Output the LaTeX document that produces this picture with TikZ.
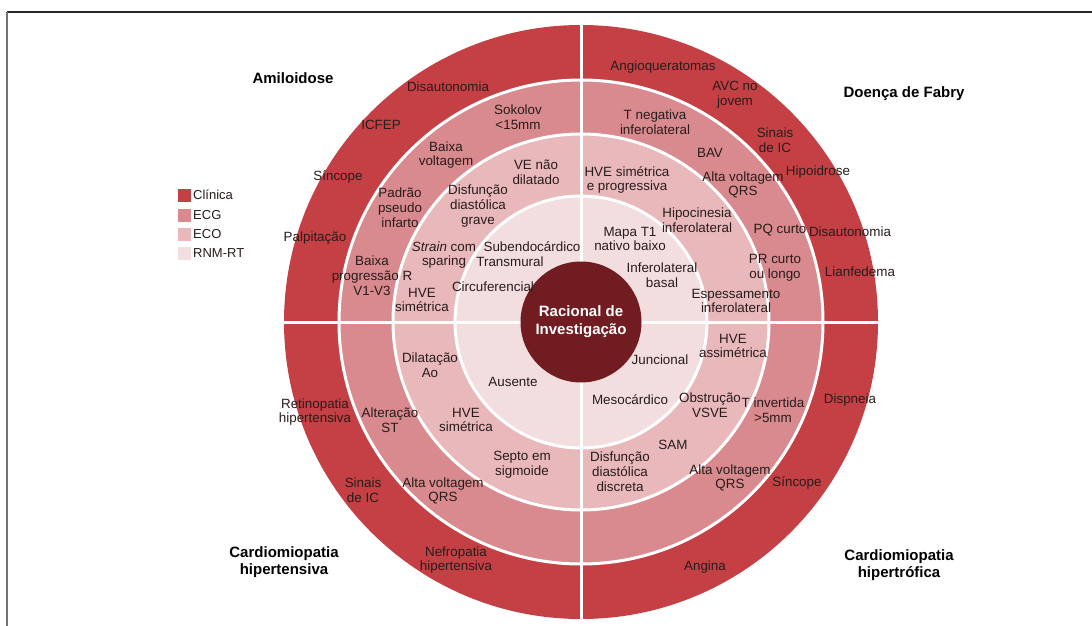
\documentclass[tikz,border=0pt]{standalone}
\usepackage{fontspec}
\setmainfont{Liberation Sans}
\definecolor{cA}{RGB}{196,64,68}
\definecolor{cB}{RGB}{216,138,142}
\definecolor{cC}{RGB}{233,184,187}
\definecolor{cD}{RGB}{243,222,223}
\definecolor{cCore}{RGB}{112,28,32}
\definecolor{txt}{RGB}{40,28,28}
\begin{document}
\begin{tikzpicture}[x=1pt,y=-1pt,
  lbl/.style={font=\fontsize{13.4}{14.8}\selectfont, text=txt, align=center, inner sep=0pt},
  ttl/.style={font=\fontsize{15}{17}\selectfont\bfseries, text=black, align=center, inner sep=0pt},
  sep/.style={white, line width=3pt},
  legsq/.style={minimum width=13pt, minimum height=13pt, inner sep=0pt, anchor=east},
  legtx/.style={font=\fontsize{13}{15}\selectfont, text=txt, anchor=west, inner sep=0pt}]
\useasboundingbox (0,0) rectangle (1092,626);
\fill[white] (0,0) rectangle (1092,626);
\draw[black!85, line width=1.2pt] (7,12) -- (1092,12);
\draw[black!55, line width=2pt] (7,12) -- (7,626);

% rings
\coordinate (O) at (581,322);
\fill[cA] (O) circle[radius=297pt];
\fill[cB] (O) circle[radius=242pt];
\fill[cC] (O) circle[radius=188pt];
\fill[cD] (O) circle[radius=126pt];
\draw[sep] (O) circle[radius=242pt];
\draw[sep] (O) circle[radius=188pt];
\draw[sep] (O) circle[radius=126pt];
\coordinate (W) at (284,322);
\coordinate (E) at (878,322);
\coordinate (N) at (581,25);
\coordinate (S) at (581,619);
\draw[sep] (W) -- (E);
\draw[sep] (N) -- (S);
\node[circle, fill=cCore, minimum size=121pt, inner sep=0pt] (core) at (O) {};
\node[font=\fontsize{15}{18}\selectfont\bfseries, text=white, align=center] (coretxt) at (O) {Racional de\\Investigação};

% titles
\node[ttl] (t1) at (293,78) {Amiloidose};
\node[ttl] (t2) at (904,94) {Doença de Fabry};
\node[ttl] (t3) at (284,562) {Cardiomiopatia\\hipertensiva};
\node[ttl] (t4) at (899,565) {Cardiomiopatia\\hipertrófica};

% legend
\node[legsq, fill=cA] (l1) at (191,195) {};
\node[legsq, fill=cB] (l2) at (191,215) {};
\node[legsq, fill=cC] (l3) at (191,234) {};
\node[legsq, fill=cD] (l4) at (191,253) {};
\node[legtx] (lt1) at (193,195) {Clínica};
\node[legtx] (lt2) at (193,215) {ECG};
\node[legtx] (lt3) at (193,234) {ECO};
\node[legtx] (lt4) at (193,253) {RNM-RT};

% top-left: Amiloidose
\node[lbl] (a1) at (448,87) {Disautonomia};
\node[lbl] (a2) at (381,125) {ICFEP};
\node[lbl] (a3) at (338,177) {Síncope};
\node[lbl] (a4) at (315,238) {Palpitação};
\node[lbl] (a5) at (518,117) {Sokolov\\<15mm};
\node[lbl] (a6) at (446,155) {Baixa\\voltagem};
\node[lbl] (a7) at (400,208) {Padrão\\pseudo\\infarto};
\node[lbl] (a8) at (372,276) {Baixa\\progressão R\\V1-V3};
\node[lbl] (a9) at (536,172) {VE não\\dilatado};
\node[lbl] (a10) at (478,206) {Disfunção\\diastólica\\grave};
\node[lbl] (a11) at (444,255) {\textit{Strain} com\\sparing};
\node[lbl] (a12) at (422,300) {HVE\\simétrica};
\node[lbl] (a13) at (532,247) {Subendocárdico};
\node[lbl] (a14) at (510,262) {Transmural};
\node[lbl] (a15) at (493,287) {Circuferencial};

% top-right: Fabry
\node[lbl] (b1) at (663,67) {Angioqueratomas};
\node[lbl] (b2) at (735,95) {AVC no\\jovem};
\node[lbl] (b3) at (775,140) {Sinais\\de IC};
\node[lbl] (b4) at (818,172) {Hipoidrose};
\node[lbl] (b5) at (850,232) {Disautonomia};
\node[lbl] (b6) at (860,272) {Lianfedema};
\node[lbl] (b7) at (655,122) {T negativa\\inferolateral};
\node[lbl] (b8) at (710,153) {BAV};
\node[lbl] (b9) at (743,185) {Alta voltagem\\QRS};
\node[lbl] (b10) at (780,230) {PQ curto};
\node[lbl] (b11) at (775,268) {PR curto\\ou longo};
\node[lbl] (b12) at (627,180) {HVE simétrica\\e progressiva};
\node[lbl] (b13) at (697,220) {Hipocinesia\\inferolateral};
\node[lbl] (b14) at (736,301) {Espessamento\\inferolateral};
\node[lbl] (b15) at (630,239) {Mapa T1\\nativo baixo};
\node[lbl] (b16) at (662,275) {Inferolateral\\basal};

% bottom-left: hipertensiva
\node[lbl] (c1) at (315,412) {Retinopatia\\hipertensiva};
\node[lbl] (c2) at (363,490) {Sinais\\de IC};
\node[lbl] (c3) at (456,560) {Nefropatia\\hipertensiva};
\node[lbl] (c4) at (390,420) {Alteração\\ST};
\node[lbl] (c5) at (443,491) {Alta voltagem\\QRS};
\node[lbl] (c6) at (430,365) {Dilatação\\Ao};
\node[lbl] (c7) at (466,420) {HVE\\simétrica};
\node[lbl] (c8) at (522,465) {Septo em\\sigmoide};
\node[lbl] (c9) at (513,382) {Ausente};

% bottom-right: hipertrofica
\node[lbl] (d1) at (850,400) {Dispneia};
\node[lbl] (d2) at (797,483) {Síncope};
\node[lbl] (d3) at (705,567) {Angina};
\node[lbl] (d4) at (773,410) {T invertida\\>5mm};
\node[lbl] (d5) at (730,478) {Alta voltagem\\QRS};
\node[lbl] (d6) at (733,346) {HVE\\assimétrica};
\node[lbl] (d7) at (710,405) {Obstrução\\VSVE};
\node[lbl] (d8) at (673,445) {SAM};
\node[lbl] (d9) at (660,360) {Juncional};
\node[lbl] (d10) at (630,400) {Mesocárdico};
\node[lbl] (d11) at (620,472) {Disfunção\\diastólica\\discreta};
\end{tikzpicture}
\end{document}
